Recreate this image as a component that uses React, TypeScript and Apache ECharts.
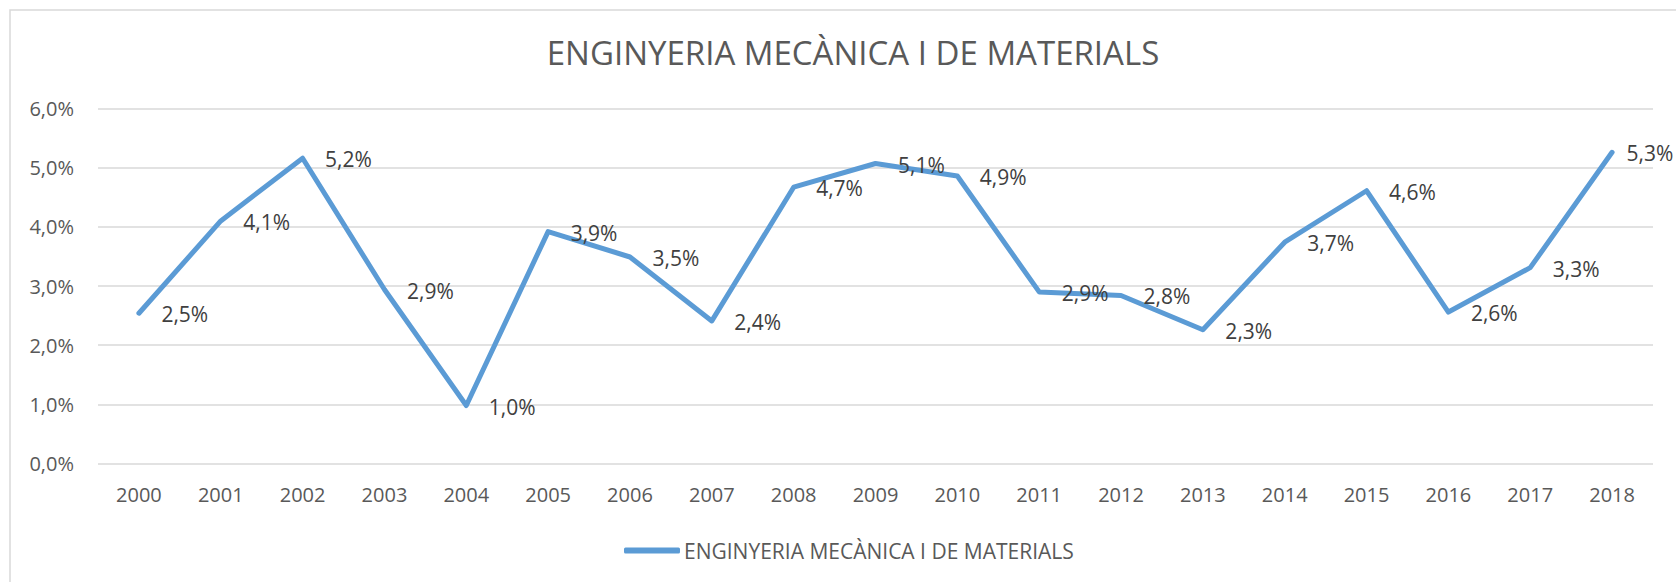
import React, { useEffect, useRef } from "react";
import * as echarts from "echarts";

const TITLE = "ENGINYERIA MECÀNICA I DE MATERIALS";
const SERIES_NAME = "ENGINYERIA MECÀNICA I DE MATERIALS";
const years = ["2000","2001","2002","2003","2004","2005","2006","2007","2008","2009","2010","2011","2012","2013","2014","2015","2016","2017","2018"];
const values = [2.54, 4.10, 5.16, 2.94, 0.98, 3.92, 3.49, 2.41, 4.67, 5.07, 4.86, 2.90, 2.84, 2.26, 3.74, 4.61, 2.56, 3.31, 5.26];
const yTicks = { min: 0, max: 6, interval: 1 };

const fmt = (v: number) => v.toFixed(1).replace(".", ",") + "%";
const FONT = "Open Sans";
const LINE_COLOR = "#5b9bd5";

export default function App() {
  const ref = useRef<HTMLDivElement>(null);
  useEffect(() => {
    document.body.style.margin = "0";
    if (!ref.current) return;
    const chart = echarts.init(ref.current, null, { renderer: "svg" });
    const lastIdx = values.length - 1;
    const seriesData = values.map((v, i) =>
      i === lastIdx ? { value: v, label: { distance: 14 } } : v
    );
    chart.setOption({
      animation: false,
      backgroundColor: "#ffffff",
      textStyle: { fontFamily: FONT },
      graphic: [
        {
          type: "rect",
          shape: { x: 10, y: 10, width: 1700, height: 620 },
          style: { fill: "none", stroke: "#d9d9d9", lineWidth: 1.5 },
          silent: true,
          z: -1,
        },
      ],
      title: {
        text: TITLE,
        left: 848,
        textAlign: "center",
        top: 31,
        textStyle: { fontFamily: FONT, fontSize: 33, fontWeight: "normal", color: "#595959" },
      },
      legend: {
        left: 619,
        top: 535,
        icon: "roundRect",
        itemWidth: 56,
        itemHeight: 6,
        itemGap: 10,
        textStyle: { fontFamily: FONT, fontSize: 21, color: "#595959", padding: [0, 0, 0, -1] },
        data: [{ name: SERIES_NAME, itemStyle: { color: LINE_COLOR, opacity: 1 } }],
      },
      grid: { left: 98, right: 23, top: 108.5, bottom: 118.5, containLabel: false },
      xAxis: {
        type: "category",
        data: years,
        boundaryGap: true,
        axisLine: { show: false },
        axisTick: { show: false },
        axisLabel: { fontFamily: FONT, fontSize: 20, color: "#595959", margin: 21 },
      },
      yAxis: {
        type: "value",
        min: yTicks.min,
        max: yTicks.max,
        interval: yTicks.interval,
        axisLine: { show: false },
        axisTick: { show: false },
        axisLabel: { fontFamily: FONT, fontSize: 20, color: "#595959", margin: 24, formatter: (v: number) => fmt(v) },
        splitLine: { lineStyle: { color: "#d9d9d9", width: 1.5 } },
      },
      series: [
        {
          name: SERIES_NAME,
          type: "line",
          data: seriesData,
          showSymbol: true,
          symbol: "circle",
          symbolSize: 1,
          lineStyle: { color: LINE_COLOR, width: 5, cap: "round", join: "round" },
          itemStyle: { color: "rgba(91,155,213,0)", borderWidth: 0 },
          label: {
            show: true,
            position: "right",
            distance: 22,
            offset: [0, 1],
            fontFamily: FONT,
            fontSize: 21,
            color: "#404040",
            formatter: (p: any) => fmt(typeof p.value === "number" ? p.value : p.data.value),
          },
        },
      ],
    });
    return () => chart.dispose();
  }, []);
  return <div ref={ref} style={{ width: "1676px", height: "582px" }} />;
}
